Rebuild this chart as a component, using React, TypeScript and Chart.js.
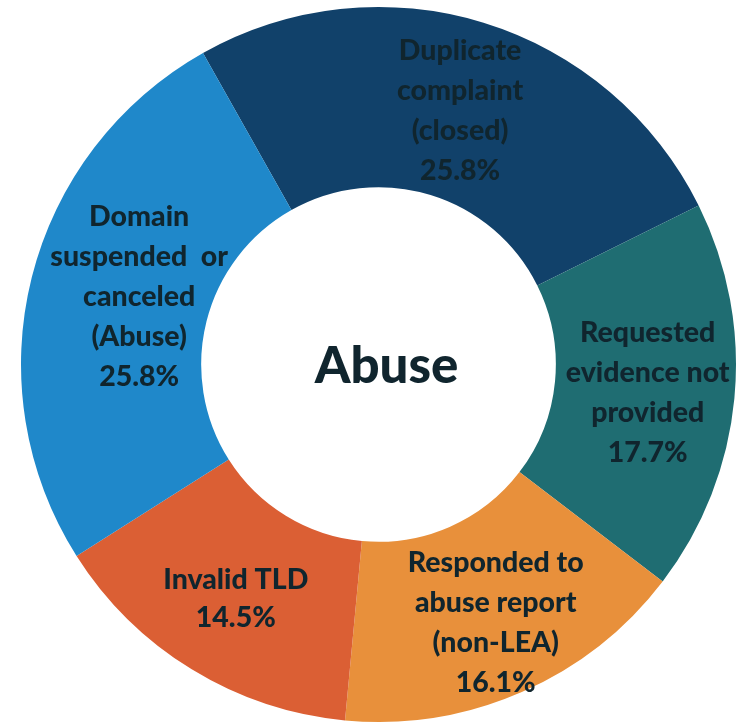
import React, { useEffect, useRef } from "react";
import { Chart, registerables } from "chart.js";

Chart.register(...registerables);

const categories: string[][] = [
  ["Duplicate", "complaint", "(closed)"],
  ["Requested", "evidence not", "provided"],
  ["Responded to", "abuse report", "(non-LEA)"],
  ["Invalid TLD"],
  ["Domain", "suspended  or", "canceled", "(Abuse)"],
];
const values: number[] = [25.8, 17.7, 16.1, 14.5, 25.8];
const colors: string[] = ["#11416A", "#1F6D72", "#E8903B", "#DB5F34", "#1F88CA"];
const centerTitle = "Abuse";

// small nudges of the slice labels from the slice centroid
const labelNudgeX: number[] = [3, 3, 10, -3, 20];
const labelNudgeY: number[] = [2, 3, 13, 6, -2];

const FONT = "Lato, 'Open Sans', sans-serif";
const TEXT_COLOR = "#10252E";

const labelPlugin = {
  id: "sliceLabels",
  afterDatasetsDraw(chart: any) {
    const ctx = chart.ctx;
    const meta = chart.getDatasetMeta(0);
    ctx.save();
    ctx.fillStyle = TEXT_COLOR;
    ctx.textAlign = "center";
    ctx.textBaseline = "middle";
    ctx.font = `900 28.5px ${FONT}`;
    meta.data.forEach((arc: any, i: number) => {
      const p = arc.tooltipPosition();
      const lines = [...categories[i], values[i].toFixed(1) + "%"];
      const lh = i === 3 ? 38 : 40;
      const cx = p.x + labelNudgeX[i];
      const startY = p.y + labelNudgeY[i] - ((lines.length - 1) * lh) / 2;
      lines.forEach((l, k) => ctx.fillText(l, cx, startY + k * lh));
    });
    const a = meta.data[0];
    ctx.font = `900 51px ${FONT}`;
    ctx.fillText(centerTitle, a.x + 8, a.y + 2);
    ctx.restore();
  },
};

export default function App() {
  const ref = useRef<HTMLCanvasElement>(null);
  useEffect(() => {
    if (!ref.current) return;
    const chart = new Chart(ref.current, {
      type: "doughnut",
      data: {
        labels: categories.map((c) => c.join(" ")),
        datasets: [
          {
            data: values,
            backgroundColor: colors,
            borderWidth: 0,
          },
        ],
      },
      options: {
        animation: false,
        responsive: false,
        rotation: -29.4,
        cutout: "49.6%",
        layout: { padding: { top: 7, bottom: 2, left: 21, right: 1 } },
        plugins: {
          legend: { display: false },
          tooltip: { enabled: false },
        },
      },
      plugins: [labelPlugin],
    });
    return () => chart.destroy();
  }, []);
  return (
    <div style={{ position: "absolute", left: 0, top: 0, width: 737, height: 724, background: "#fff" }}>
      <canvas ref={ref} width={737} height={724} style={{ width: 737, height: 724 }} />
    </div>
  );
}
